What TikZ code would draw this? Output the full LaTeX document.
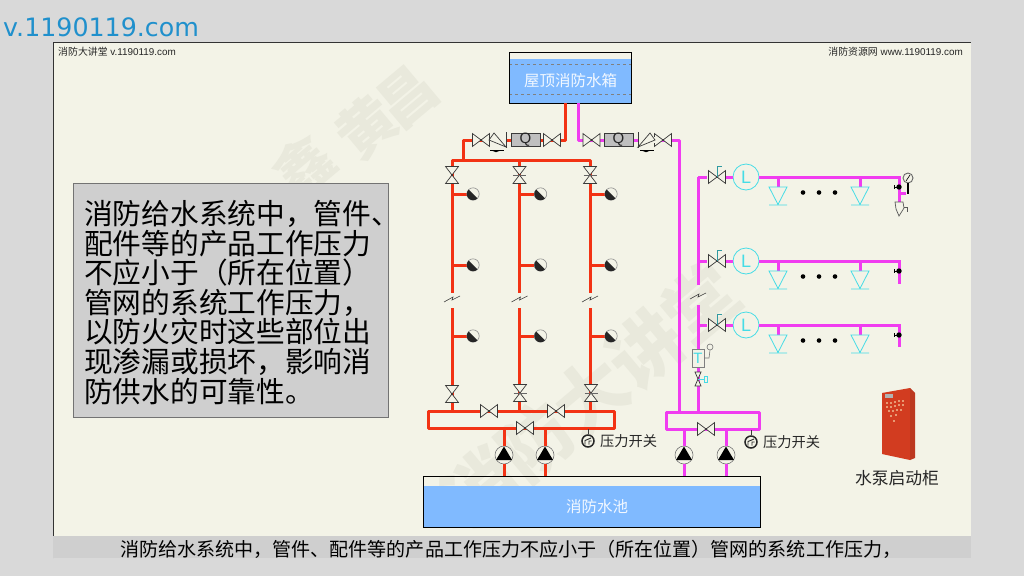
\documentclass[tikz,border=0pt]{standalone}
\usepackage{fontspec}
\setmainfont{Liberation Sans}
\newfontfamily\cjk{Noto Sans CJK SC}
\newfontfamily\dejavu{DejaVu Sans}
\definecolor{pagegray}{HTML}{D9D9D9}
\definecolor{panel}{HTML}{F3F3E7}
\definecolor{wm}{HTML}{E9E9DC}
\definecolor{band}{HTML}{CFCFCF}
\definecolor{water}{HTML}{80BAFF}
\definecolor{redp}{HTML}{F23214}
\definecolor{magp}{HTML}{F03CF0}
\definecolor{cyanp}{HTML}{45DCE6}
\definecolor{linkblue}{HTML}{2090CC}
\definecolor{cabf}{HTML}{D23C20}
\definecolor{cabs}{HTML}{BC3820}
\definecolor{thin}{HTML}{3A3A3A}
\tikzset{
  x=1pt,y=-1pt,
  redpipe/.style={draw=redp,line width=3pt,line join=round},
  magpipe/.style={draw=magp,line width=3pt,line join=round},
  redbranch/.style={draw=redp,line width=3pt},
  magbranch/.style={draw=magp,line width=3pt},
  thinline/.style={draw=thin,line width=.7pt},
  filterbox/.style={rectangle,draw=thin,line width=.6pt,fill=black!25,minimum width=29pt,minimum height=12pt,inner sep=0pt,font=\fontsize{15}{15}\selectfont,text=black!85},
  pumpc/.style={circle,draw=black!55,fill=panel,line width=.6pt,minimum size=18pt,inner sep=0pt},
  lcirc/.style={circle,draw=cyanp,fill=panel,line width=.8pt,minimum size=26pt,inner sep=0pt,text=cyanp,font=\fontsize{18}{18}\selectfont},
  headc/.style={circle,minimum size=12pt,inner sep=0pt},
  swc/.style={circle,draw=black!85,line width=1.5pt,minimum size=12pt,inner sep=0pt},
  caption/.style={inner sep=0pt,text=black!85},
  wmchar/.style={rotate=40,text=wm,inner sep=0pt,font=\cjk\fontsize{72}{72}\selectfont\bfseries},
  wmsmall/.style={rotate=40,text=wm,inner sep=0pt,font=\cjk\fontsize{58}{58}\selectfont\bfseries},
  bowtie/.pic={
    \filldraw[thinline,fill=panel] (-8.5,-6.4)--(8.5,6.4)--(8.5,-6.4)--(-8.5,6.4)--cycle;
    \fill[black!80] (0,0) circle (1pt);},
  vvalve/.pic={
    \filldraw[thinline,fill=panel] (-6.5,-8.5)--(6.5,8.5)--(-6.5,8.5)--(6.5,-8.5)--cycle;
    \fill[black!80] (0,0) circle (1pt);},
  vvalvebar/.pic={
    \filldraw[thinline,fill=panel] (-6.5,-8.5)--(6.5,8.5)--(-6.5,8.5)--(6.5,-8.5)--cycle;
    \draw[draw=black!60,line width=.6pt] (-6.5,0)--(6.5,0);},
  headpic/.pic={
    \draw[draw=black!45,fill=panel,line width=.6pt] (0,0) circle (6.2);
    \fill[black!85] (-4.4,-4.4) arc[start angle=225,end angle=45,radius=6.22]--cycle;},
  pumpmark/.pic={\fill[black] (0,-8.5)--(8,5)--(-8,5)--cycle;},
  breakmark/.pic={\draw[draw=thin,line width=.6pt] (-8,3)--(1,-2)--(0,1)--(8,-3);},
  switchmark/.pic={
    \draw[draw=black!85,line width=.9pt] (-3,3.5)--(-3,-.5)--(3,-3) (1,3.5)--(1,0)--(3.5,0);},
  sprink/.pic={
    \draw[draw=cyanp,line width=.8pt] (-9,0)--(9,0)--(0,17.5)--cycle (-9,18)--(9,18);},
  chkmark/.pic={
    \draw[draw=black,line width=.8pt] (-7,0)--(7,0);
    \fill[black] (-7,0)--(5,0)--(-1,2.2)--cycle;},
}
\begin{document}
\begin{tikzpicture}
\useasboundingbox (0,0) rectangle (1024,576);
\fill[pagegray] (0,0) rectangle (1024,576);
\fill[panel] (53,42) rectangle (971,558);
\draw[draw=black!80,line width=1pt] (53,558)--(53,42)--(971,42);
% watermark
\node[wmsmall] (wa) at (303,167) {鑫};
\node[wmsmall] (wb) at (367,127) {黄};
\node[wmsmall] (wc) at (407,97) {昌};
\node[wmchar] (w1) at (480,487) {消};
\node[wmchar] (w2) at (535,441) {防};
\node[wmchar] (w3) at (590,395) {大};
\node[wmchar] (w4) at (645,349) {讲};
\node[wmchar] (w5) at (700,303) {堂};
\fill[band] (53,536) rectangle (971,558);
% site labels
\node[anchor=west,text=linkblue,inner sep=0pt,font=\dejavu\fontsize{25.3}{26}\selectfont] (site) at (3,27) {v.1190119.com};
\node[anchor=west,caption,font=\fontsize{9.9}{10}\selectfont] (lab1) at (58,52) {{\cjk 消防大讲堂} v.1190119.com};
\node[anchor=east,caption,font=\fontsize{9.9}{10}\selectfont] (lab2) at (963,52) {{\cjk 消防资源网} www.1190119.com};
% text box
\node[anchor=north west,rectangle,draw=black!55,fill=band,line width=1pt,minimum width=315pt,minimum height=234pt,inner sep=0pt] (notebox) at (73,183) {};
\node[anchor=north west,inner sep=0pt,align=left,text=black,font=\cjk\fontsize{28.7}{29.6}\selectfont] (note) at (84,200) {消防给水系统中，管件、\\配件等的产品工作压力\\不应小于（所在位置）\\管网的系统工作压力，\\以防火灾时这些部位出\\现渗漏或损坏，影响消\\防供水的可靠性。};
\node[caption,anchor=west,font=\cjk\fontsize{19.05}{20}\selectfont,text=black] (cap) at (120,549) {消防给水系统中，管件、配件等的产品工作压力不应小于（所在位置）管网的系统工作压力，};
% tank
\node[anchor=north west,rectangle,minimum width=122pt,minimum height=51pt,inner sep=0pt] (tank) at (509,52) {};
\fill[water] (509,59) rectangle (631,103);
\draw[dashed,draw=black!50,line width=.5pt] (509,64)--(631,64) (509,94)--(631,94);
\draw[draw=black,line width=1pt] (509,52) rectangle (631,103);
\node[text=white!90!water,inner sep=0pt,font=\cjk\fontsize{15.5}{16}\selectfont] (tanklabel) at (570.5,81) {屋顶消防水箱};
% pool
\node[anchor=north west,rectangle,minimum width=337pt,minimum height=51pt,inner sep=0pt] (pool) at (423,476) {};
\fill[water] (423,486) rectangle (760,527);
\draw[draw=black,line width=1pt] (423,476) rectangle (760,527);
\node[text=white!90!water,inner sep=0pt,font=\cjk\fontsize{15.5}{16}\selectfont] (poollabel) at (597,507) {消防水池};
% ---- coordinates
\coordinate (rt) at (565,103); \coordinate (rc) at (565,140);
\coordinate (rl) at (463,140); \coordinate (rh) at (463,160);
\coordinate (hl) at (452,160); \coordinate (hr) at (590,160);
\coordinate (mt) at (578,103); \coordinate (mc) at (578,140);
\coordinate (mr) at (679,140); \coordinate (mb) at (679,412);
% red header box
\draw[redpipe] (rt)--(rc)--(rl)--(rh);
\draw[redpipe] (452,168)--(hl)--(hr)--(590,168);
\draw[redbranch] (519.5,160)--(519.5,170);
\foreach \x/\nm in {452/a,519.5/b,590/c}{
  \coordinate (t\nm) at (\x,170);
  \coordinate (u\nm) at (\x,293);
  \coordinate (v\nm) at (\x,308);
  \coordinate (w\nm) at (\x,411);
  \draw[redpipe] (t\nm)--(u\nm);
  \draw[redpipe] (v\nm)--(w\nm);
  \path (\x,299) pic {breakmark};
  \foreach \y/\k in {194/1,265/2,336/3}{
    \node[headc] (h\nm\k) at (\x+21,\y) {};
    \draw[redbranch] (\x,\y)--(h\nm\k.west);
    \path (h\nm\k) pic {headpic};
  }
}
\draw[redpipe,line cap=round] (428,411) rectangle (614,428);
% magenta
\draw[magpipe] (mt)--(mc)--(mr)--(mb);
\draw[magpipe] (698,177)--(698,285);
\draw[magpipe] (698,305)--(698,412);
\draw[magpipe,line cap=round] (666,412) rectangle (759,429);
% valves on the two top lines
\node[filterbox] (q1) at (525.5,140) {Q};
\node[filterbox] (q2) at (618.5,140) {Q};
\path (552,140) pic {bowtie};
\path (481,140) pic {bowtie};
\path (591.5,140) pic {bowtie};
\path (663,140) pic {bowtie};
\fill[panel] (489.5,137) rectangle (505.5,143);
\fill[panel] (638.5,137) rectangle (654.5,143);
\filldraw[thinline,fill=panel] (489,140)--(494,133)--(506,147)--cycle;
\draw[thinline] (506,132)--(506,148);
\filldraw[thinline,fill=panel] (655,140)--(650,133)--(638,147)--cycle;
\draw[thinline] (638,132)--(638,148);
\path (497,150) pic {chkmark};
\path (647,150) pic {chkmark};
% riser valves
\path (452,175) pic {vvalve};
\path (519.5,175) pic {vvalvebar};
\path (590,175) pic {vvalvebar};
\path (452,394) pic {vvalve};
\path (520,393) pic {vvalvebar};
\path (591,393) pic {vvalvebar};
% header valves
\path (489,411) pic {bowtie};
\path (556,411) pic {bowtie};
\path (525,428) pic {bowtie};
\path (706,429) pic {bowtie};
% pumps
\foreach \x/\nm/\c in {504/pa/redpipe,545/pb/redpipe,684/pc/magpipe,726/pd/magpipe}{
  \node[pumpc] (\nm) at (\x,455) {};
  \draw[\c] (\x,428)--(\nm.north);
  \draw[\c] (\nm.south)--(\x,476);
  \path (\nm) pic {pumpmark};
}
% pressure switches
\node[swc] (sw1) at (588,441) {};
\draw[draw=thin,line width=.6pt] (588,429)--(sw1.north);
\path (sw1) pic {switchmark};
\node[anchor=west,caption,font=\cjk\fontsize{14.25}{15}\selectfont] (swt1) at (600,441) {压力开关};
\node[swc] (sw2) at (751,442) {};
\draw[draw=thin,line width=.6pt] (751,430)--(sw2.north);
\path (sw2) pic {switchmark};
\node[anchor=west,caption,font=\cjk\fontsize{14.25}{15}\selectfont] (swt2) at (763,442) {压力开关};
% magenta branches
\path (698,296) pic {breakmark};
\foreach \y/\k/\e in {177/1/202,261/2/284,325/3/347}{
  \node[lcirc] (L\k) at (746,\y) {L};
  \coordinate (E\k) at (899,\y);
  \draw[magbranch] (698,\y)--(707,\y);
  \draw[magbranch] (726,\y)--(L\k.west);
  \draw[magbranch] (L\k.east)--(E\k)--(899,\e);
  \path (717,\y) pic {bowtie};
  \draw[draw=cyanp!70!black,line width=.6pt] (717,\y)--(717,\y-11)--(722,\y-11);
  \foreach \x in {778,860}{
    \draw[magbranch] (\x,\y)--(\x,\y+10);
    \path (\x,\y+10) pic {sprink};
  }
  \foreach \x in {803,819,835}{\fill[black] (\x,\y+15.5) circle (2.3pt);}
  \fill[black] (899,\y+10) circle (2.7pt);
  \draw[draw=black,line width=.7pt] (894,\y+8)--(894,\y+12) (894,\y+10)--(899,\y+10);
}
% end assembly
\node[circle,draw=black!60,fill=panel,line width=.9pt,minimum size=10pt,inner sep=0pt] (gauge) at (908,178) {};
\draw[draw=black,line width=.6pt] (906,181)--(910,175);
\draw[magbranch] (899,193)--(906,193);
\draw[draw=black,line width=1.6pt] (gauge.south)--(908,194);
\filldraw[draw=black!65,fill=panel,line width=.7pt] (895,202)--(903,202)--(904,208)--(899,216)--(896,209)--cycle;
\draw[draw=black!65,line width=.6pt] (904,207)--(907,207)--(907,212);
% T device
\node[rectangle,draw=black!50,fill=panel,line width=.7pt,minimum width=12pt,minimum height=18pt,inner sep=0pt,text=cyanp,font=\fontsize{15}{15}\selectfont] (tdev) at (698,358) {T};
\node[circle,draw=black!55,line width=.6pt,minimum size=6pt,inner sep=0pt] (tball) at (710,347) {};
\draw[draw=black!55,line width=.6pt] (tdev.east)--(709,358)--(tball.south);
\filldraw[thinline,fill=panel] (695,372)--(701,386)--(695,386)--(701,372)--cycle;
\node[rectangle,draw=cyanp,line width=.6pt,minimum width=3pt,minimum height=6pt,inner sep=0pt] (tsw) at (706,379) {};
\draw[draw=cyanp,line width=.6pt] (698,379)--(tsw.west);
% cabinet
\fill[cabf] (882,393)--(910,388)--(910,460)--(882,454)--cycle;
\fill[cabs] (910,388)--(915,393)--(915,458)--(910,460)--cycle;
\fill[white!70!black] (885,394) rectangle (893,398);
\foreach \x/\y in {887/403,891/403,895/402,899/401,903/401,887/407,891/407,895/406,899/405,903/405,889/411,893/411,897/410,901/410,891/416,896/415,894/421}{
  \fill[white!80!yellow] (\x,\y) circle (.8pt);
}
\node[caption,font=\cjk\fontsize{16.8}{17}\selectfont] (cabt) at (897,478) {水泵启动柜};
\end{tikzpicture}
\end{document}
